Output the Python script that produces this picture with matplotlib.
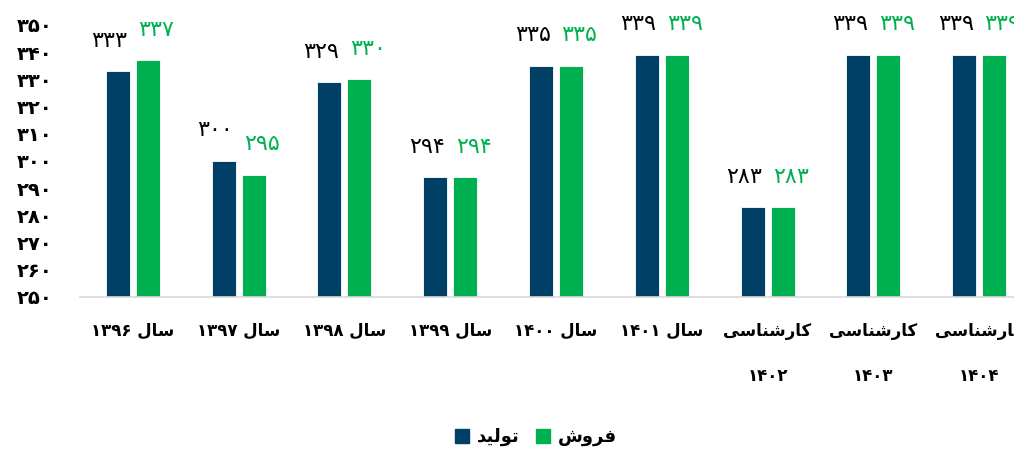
import matplotlib
matplotlib.use("Agg")
import matplotlib.pyplot as plt
import numpy as np
from matplotlib.lines import Line2D

# داده‌ها
categories = ["سال ۱۳۹۶", "سال ۱۳۹۷", "سال ۱۳۹۸", "سال ۱۳۹۹", "سال ۱۴۰۰",
              "سال ۱۴۰۱", "کارشناسی\n۱۴۰۲", "کارشناسی\n۱۴۰۳", "کارشناسی\n۱۴۰۴"]
production = [333, 300, 329, 294, 335, 339, 283, 339, 339]
sales = [337, 295, 330, 294, 335, 339, 283, 339, 339]
series_names = ["تولید", "فروش"]
y_ticks = list(range(250, 351, 10))

NAVY = "#003f66"
GREEN = "#00b050"

# ---- شکل‌دهی ساده حروف فارسی (matplotlib خودش اتصال حروف را انجام نمی‌دهد)
FORMS = {
    "ا": ("\uFE8D", "\uFE8E", None, None),
    "ل": ("\uFEDD", "\uFEDE", "\uFEDF", "\uFEE0"),
    "س": ("\uFEB1", "\uFEB2", "\uFEB3", "\uFEB4"),
    "ش": ("\uFEB5", "\uFEB6", "\uFEB7", "\uFEB8"),
    "ر": ("\uFEAD", "\uFEAE", None, None),
    "ن": ("\uFEE5", "\uFEE6", "\uFEE7", "\uFEE8"),
    "ک": ("\uFB8E", "\uFB8F", "\uFB90", "\uFB91"),
    "ی": ("\uFBFC", "\uFBFD", "\uFBFE", "\uFBFF"),
    "ت": ("\uFE95", "\uFE96", "\uFE97", "\uFE98"),
    "و": ("\uFEED", "\uFEEE", None, None),
    "د": ("\uFEA9", "\uFEAA", None, None),
    "ف": ("\uFED1", "\uFED2", "\uFED3", "\uFED4"),
}


def dual(c):
    return c in FORMS and FORMS[c][2] is not None


def shape_word(w):
    if not any(c in FORMS for c in w):
        return w
    out = []
    for i, c in enumerate(w):
        if c not in FORMS:
            out.append(c)
            continue
        prev_j = i > 0 and dual(w[i - 1])
        next_j = dual(c) and i + 1 < len(w) and w[i + 1] in FORMS
        iso, fin, ini, med = FORMS[c]
        if prev_j and next_j:
            out.append(med)
        elif prev_j:
            out.append(fin)
        elif next_j:
            out.append(ini)
        else:
            out.append(iso)
    return "".join(reversed(out))


def fa(text):
    lines = []
    for line in text.split("\n"):
        lines.append(" ".join(shape_word(t) for t in reversed(line.split(" "))))
    return "\n".join(lines)


def fa_num(n):
    return str(n).translate(str.maketrans("0123456789", "۰۱۲۳۴۵۶۷۸۹"))


plt.rcParams["font.family"] = ["DejaVu Sans"]

fig = plt.figure(figsize=(10.14, 4.51), dpi=100)
ax = fig.add_axes([0.0789, 0.3415, 0.9389, 0.6031])

x = np.arange(len(categories))
w = 0.227
off = 0.142
ax.bar(x - off, production, w, color=NAVY, edgecolor="white", linewidth=0.6)
ax.bar(x + off, sales, w, color=GREEN, edgecolor="white", linewidth=0.6)

for xi, v in zip(x - off, production):
    ax.annotate(fa_num(v), (xi, v), xytext=(-6, 22), textcoords="offset points",
                ha="center", va="center", fontsize=16, color="black")
for xi, v in zip(x + off, sales):
    ax.annotate(fa_num(v), (xi, v), xytext=(6, 22), textcoords="offset points",
                ha="center", va="center", fontsize=16, color=GREEN)

ax.set_xlim(-0.5, len(categories) - 0.5)
ax.set_ylim(250, 350)
ax.set_yticks(y_ticks)
ax.set_yticklabels([fa_num(t) for t in y_ticks], fontsize=14, fontweight="bold")
ax.set_xticks(x)
ax.set_xticklabels([fa(c) for c in categories], fontsize=12, fontweight="bold",
                   linespacing=2.9)
ax.tick_params(axis="y", length=0, pad=20)
ax.tick_params(axis="x", length=0, pad=18)

for s in ["top", "right", "left"]:
    ax.spines[s].set_visible(False)
ax.spines["bottom"].set_color("#d9d9d9")
ax.spines["bottom"].set_linewidth(1.2)

handles = [Line2D([], [], marker="s", linestyle="none", markersize=10, color=NAVY),
           Line2D([], [], marker="s", linestyle="none", markersize=10, color=GREEN)]
fig.legend(handles, [fa(n) for n in series_names], loc="center",
           bbox_to_anchor=(535 / 1014, 1 - 437 / 451), ncol=2, frameon=False,
           prop={"size": 13, "weight": "bold"}, handletextpad=0.3, columnspacing=0.8,
           handlelength=1.0)

fig.savefig("out.png", dpi=100)
